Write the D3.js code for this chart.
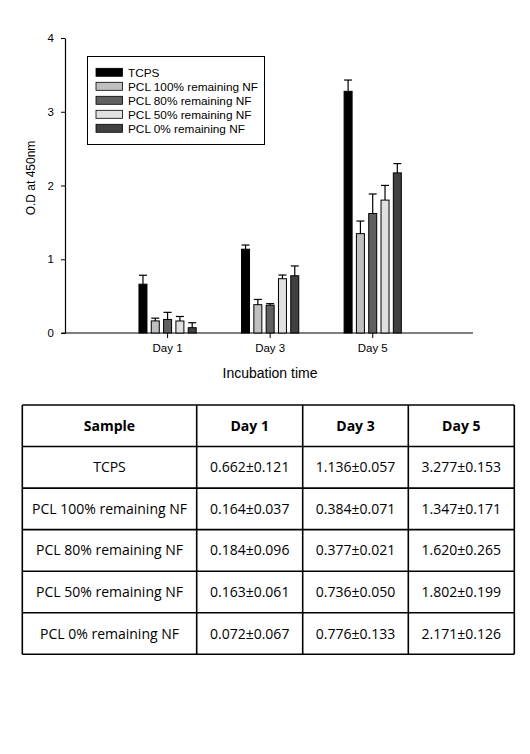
<!DOCTYPE html>
<html>
<head>
<meta charset="utf-8">
<script src="https://cdn.jsdelivr.net/npm/d3@7"></script>
<style>
  html, body { margin: 0; padding: 0; background: #fff; }
  svg { display: block; }
</style>
</head>
<body>
<script>
// ---------- data ----------
const categories = ["Day 1", "Day 3", "Day 5"];
const seriesNames = ["TCPS", "PCL 100% remaining NF", "PCL 80% remaining NF", "PCL 50% remaining NF", "PCL 0% remaining NF"];
const tcpsMean   = [0.662, 1.136, 3.277];
const tcpsSd     = [0.121, 0.057, 0.153];
const pcl100Mean = [0.164, 0.384, 1.347];
const pcl100Sd   = [0.037, 0.071, 0.171];
const pcl80Mean  = [0.184, 0.377, 1.620];
const pcl80Sd    = [0.096, 0.021, 0.265];
const pcl50Mean  = [0.163, 0.736, 1.802];
const pcl50Sd    = [0.061, 0.050, 0.199];
const pcl0Mean   = [0.072, 0.776, 2.171];
const pcl0Sd     = [0.067, 0.133, 0.126];
const yTicks = [0, 1, 2, 3, 4];
const tableHeader = ["Sample", "Day 1", "Day 3", "Day 5"];

const means = [tcpsMean, pcl100Mean, pcl80Mean, pcl50Mean, pcl0Mean];
const sds   = [tcpsSd, pcl100Sd, pcl80Sd, pcl50Sd, pcl0Sd];
const colors = ["#000000", "#c0c0c0", "#606060", "#e0e0e0", "#404040"];

// ---------- svg ----------
const W = 530, H = 754;
const svg = d3.select("body").append("svg").attr("width", W).attr("height", H);
const chartFont = "'Liberation Sans', Arial, sans-serif";
const tableFont = "'Open Sans', 'Noto Sans', sans-serif";

// scales
const y = d3.scaleLinear().domain([0, 4]).range([333, 38]);
const x0 = d3.scaleBand().domain(categories).range([116.3, 424]).paddingInner(0).paddingOuter(0);
const x1 = d3.scaleBand().domain(d3.range(seriesNames.length))
  .range([-x0.bandwidth() * 0.3, x0.bandwidth() * 0.3]).paddingInner(0.35).paddingOuter(0.175);

// y axis
const yAxis = svg.append("g").attr("transform", "translate(65,0)")
  .call(d3.axisLeft(y).tickValues(yTicks).tickFormat(d3.format("d")).tickSize(4).tickSizeOuter(0).tickPadding(7));
yAxis.select(".domain").attr("stroke", "#000").attr("stroke-width", 1.2);
yAxis.selectAll(".tick line").attr("stroke", "#000");
yAxis.selectAll("text").attr("font-family", chartFont).attr("font-size", 11.5).attr("fill", "#000");

// x axis
const xAxis = svg.append("g").attr("transform", "translate(0,333)")
  .call(d3.axisBottom(x0).tickSize(5).tickSizeOuter(0).tickPadding(6));
xAxis.select(".domain").remove();
xAxis.selectAll(".tick line").attr("stroke", "#000");
xAxis.selectAll("text").attr("font-family", chartFont).attr("font-size", 11.5).attr("fill", "#000");
svg.append("line").attr("x1", 61.5).attr("x2", 473).attr("y1", y(0)).attr("y2", y(0))
  .attr("stroke", "#000").attr("stroke-width", 1.2);

// bars
const flat = [];
categories.forEach((c, ci) => {
  seriesNames.forEach((s, si) => {
    flat.push({ c, si, v: means[si][ci], e: sds[si][ci] });
  });
});
const barG = svg.append("g");
const cx = d => x0(d.c) + x0.bandwidth() / 2 + x1(d.si);
barG.selectAll("rect").data(flat).enter().append("rect")
  .attr("x", d => cx(d))
  .attr("y", d => y(d.v))
  .attr("width", x1.bandwidth())
  .attr("height", d => y(0) - y(d.v))
  .attr("fill", d => colors[d.si])
  .attr("stroke", "#000").attr("stroke-width", 1);

// error bars (upward)
const errG = svg.append("g").attr("stroke", "#000").attr("stroke-width", 1.2);
errG.selectAll("line.v").data(flat).enter().append("line").attr("class", "v")
  .attr("x1", d => cx(d) + x1.bandwidth() / 2).attr("x2", d => cx(d) + x1.bandwidth() / 2)
  .attr("y1", d => y(d.v)).attr("y2", d => y(d.v + d.e));
errG.selectAll("line.c").data(flat).enter().append("line").attr("class", "c")
  .attr("x1", d => cx(d)).attr("x2", d => cx(d) + x1.bandwidth())
  .attr("y1", d => y(d.v + d.e)).attr("y2", d => y(d.v + d.e));

// axis titles
svg.append("text").attr("transform", `translate(35,178) rotate(-90)`)
  .attr("text-anchor", "middle").attr("font-family", chartFont).attr("font-size", 12)
  .text("O.D at 450nm");
svg.append("text").attr("x", 270).attr("y", 378)
  .attr("text-anchor", "middle").attr("font-family", chartFont).attr("font-size", 14)
  .text("Incubation time");

// legend
const leg = svg.append("g");
leg.append("rect").attr("x", 87.5).attr("y", 56.5).attr("width", 177).attr("height", 88)
  .attr("fill", "#fff").attr("stroke", "#000").attr("stroke-width", 1);
const legItems = leg.selectAll("g.item").data(seriesNames).enter().append("g")
  .attr("transform", (d, i) => `translate(96,${72.3 + i * 14})`);
legItems.append("rect").attr("x", 0).attr("y", -4).attr("width", 26.5).attr("height", 8)
  .attr("fill", (d, i) => colors[i]).attr("stroke", "#000").attr("stroke-width", 0.8);
legItems.append("text").attr("x", 32).attr("y", 4.5)
  .attr("font-family", chartFont).attr("font-size", 11.8).text(d => d);

// table
const colX = [22.3, 196.7, 302.7, 408.3, 514.3];
const rowY = d3.range(7).map(i => 405 + i * 41.55);
const tbl = svg.append("g");
const rows = [tableHeader].concat(seriesNames.map((s, si) =>
  [s].concat(categories.map((c, ci) => means[si][ci].toFixed(3) + "±" + sds[si][ci].toFixed(3)))));
rows.forEach((r, ri) => {
  r.forEach((t, ci) => {
    tbl.append("text")
      .attr("x", (colX[ci] + colX[ci + 1]) / 2)
      .attr("y", (rowY[ri] + rowY[ri + 1]) / 2 + 5)
      .attr("text-anchor", "middle")
      .attr("font-family", tableFont)
      .attr("font-size", 14)
      .attr("font-weight", ri === 0 ? 700 : 400)
      .attr("fill", "#000")
      .text(t);
  });
});
rowY.forEach(yy => tbl.append("line").attr("x1", colX[0]).attr("x2", colX[4]).attr("y1", yy).attr("y2", yy)
  .attr("stroke", "#000").attr("stroke-width", 1.6));
colX.forEach(xx => tbl.append("line").attr("x1", xx).attr("x2", xx).attr("y1", rowY[0]).attr("y2", rowY[6])
  .attr("stroke", "#000").attr("stroke-width", 1.6));
</script>
</body>
</html>
